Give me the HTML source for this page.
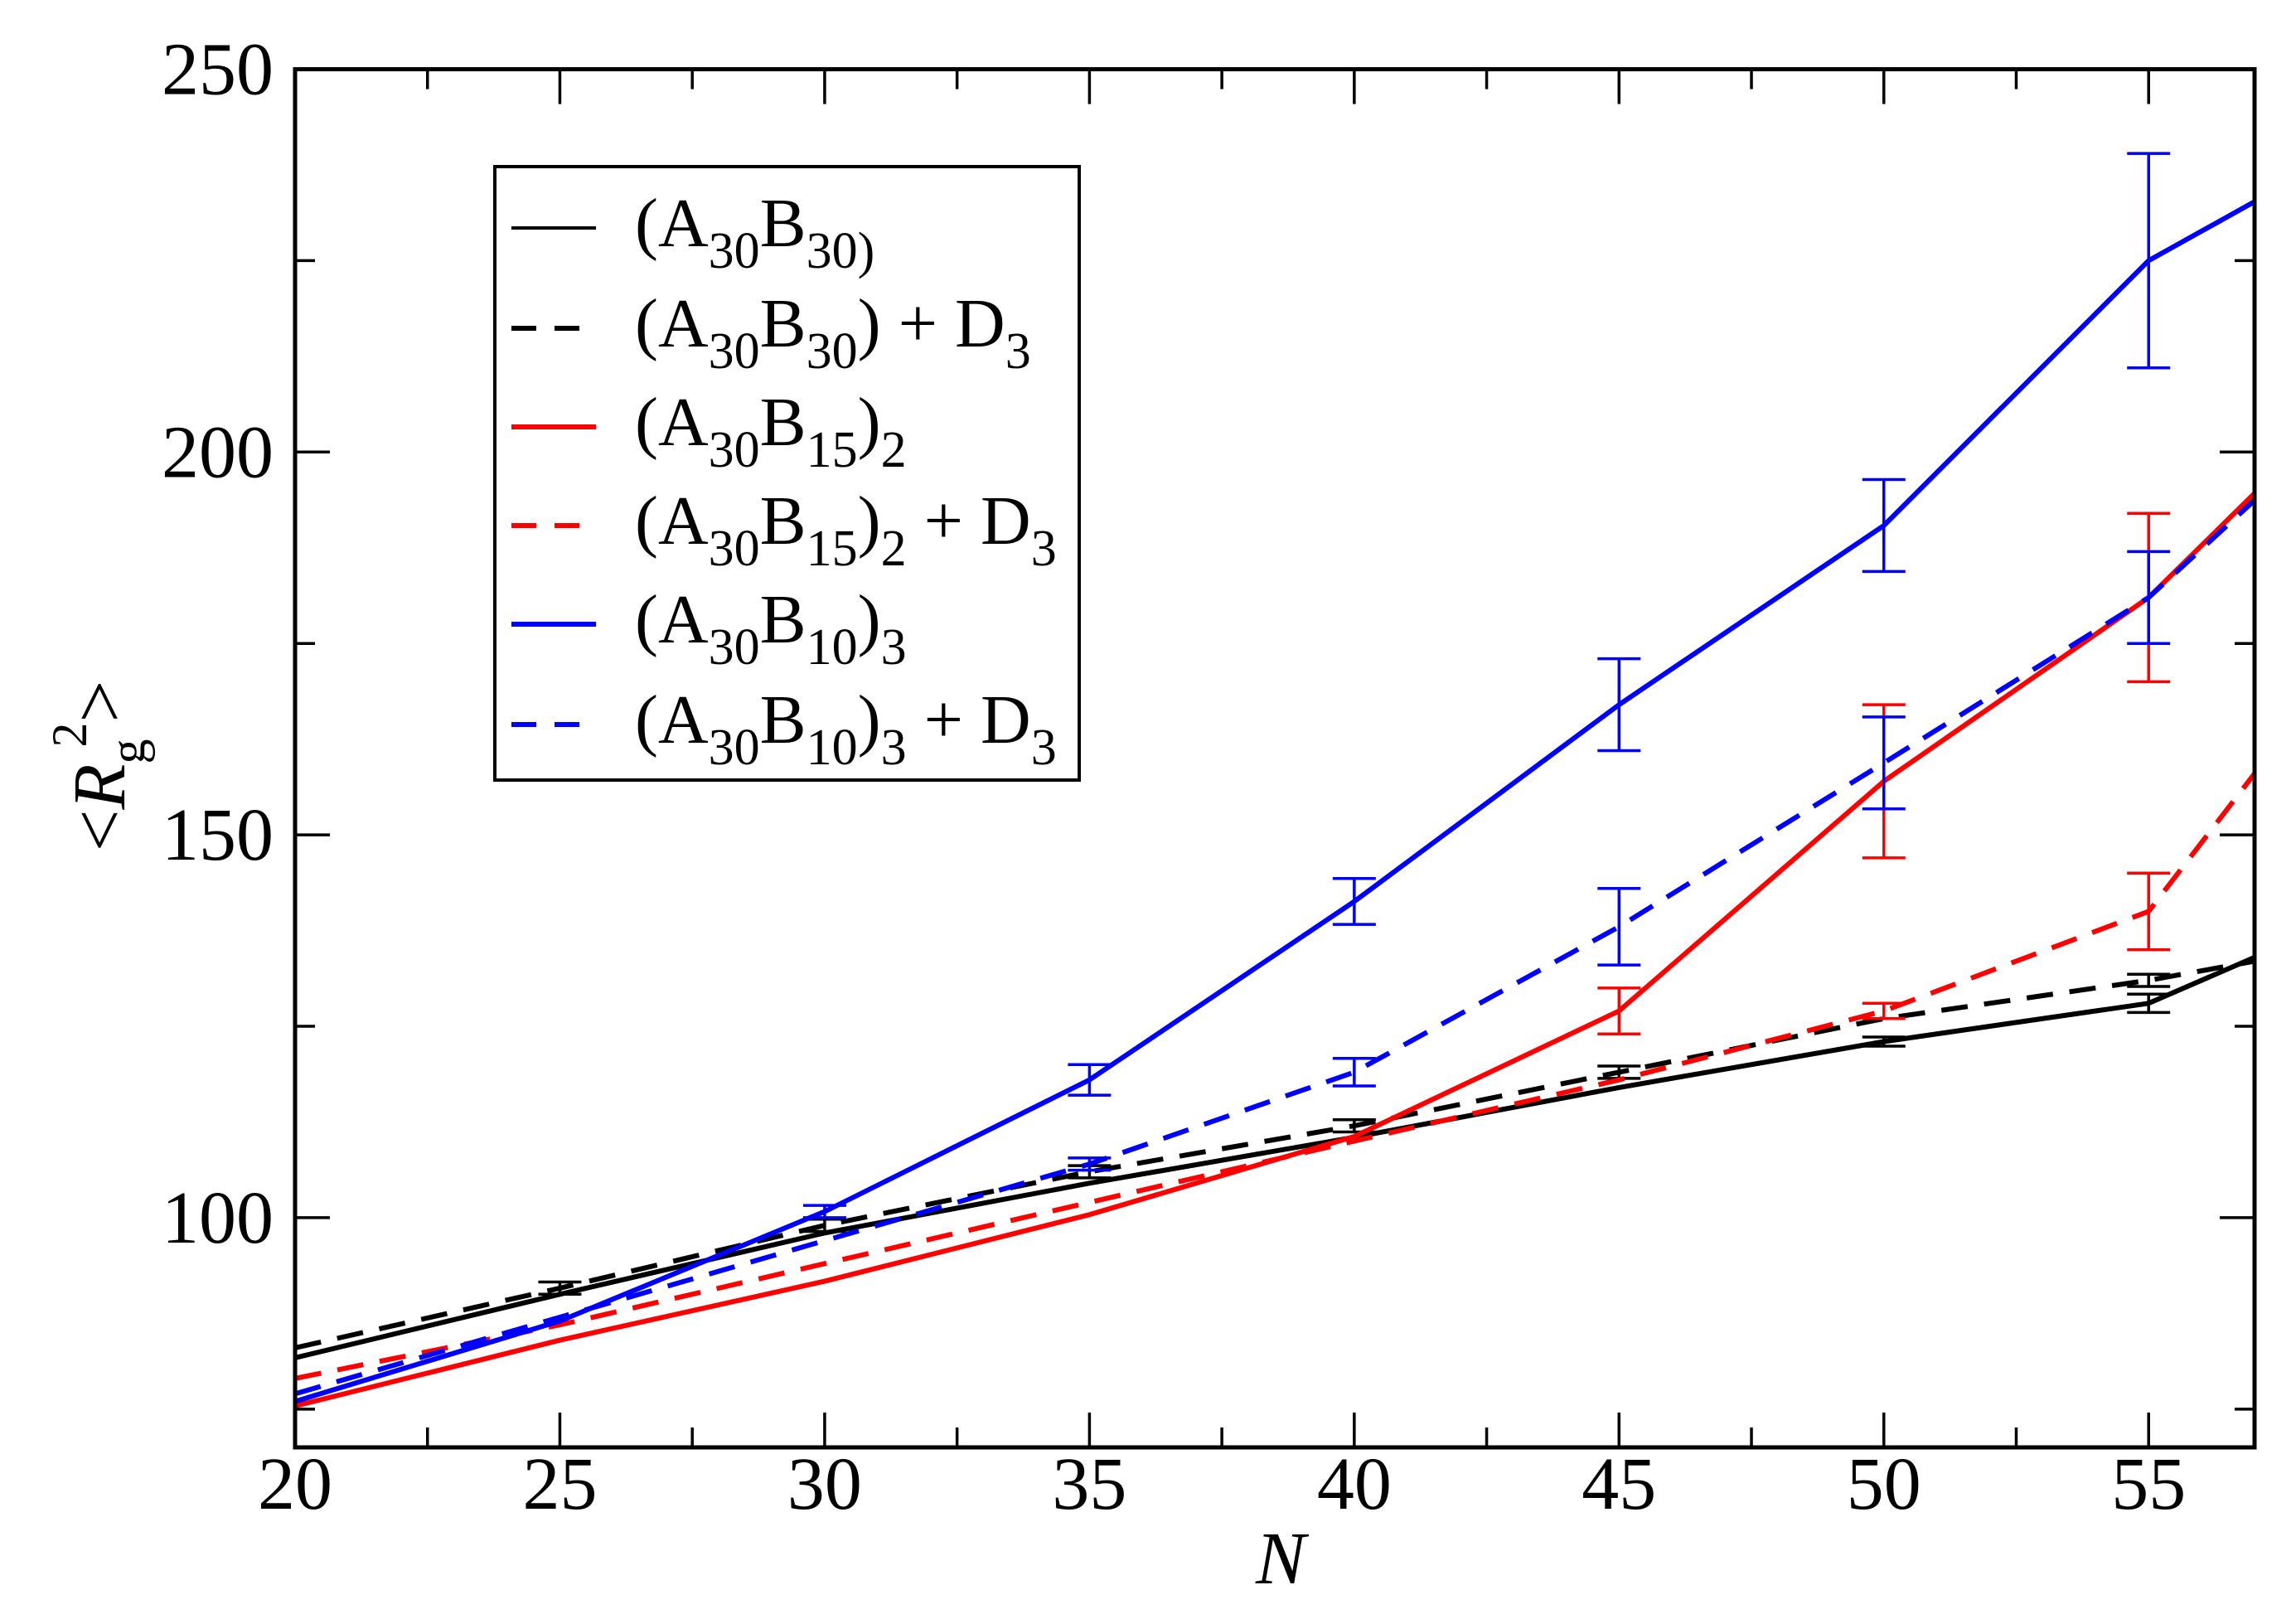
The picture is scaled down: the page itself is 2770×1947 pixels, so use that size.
<!DOCTYPE html>
<html><head><meta charset="utf-8"><style>
html,body{margin:0;padding:0;background:#fff;}
svg{display:block;font-family:"Liberation Serif",serif;}
</style></head><body>
<svg id="chart" width="2770" height="1947" viewBox="0 0 2770 1947" xmlns="http://www.w3.org/2000/svg">
<g id="plot"></g>
<g id="axes"></g>
<g id="legend">
<rect x="597" y="201" width="705" height="740" fill="#fff" stroke="#000" stroke-width="4"/>
</g>
</svg>
<script>
const xValues=[20,25,30,35,40,45,50,55,57];
const blackSolid=[81.7,90,98,104.5,110.5,117,123,128,134];
const blackDashed=[83,90.8,99,106,112,119,126,131,133.5];
const redSolid=[75.4,84,91.7,100.4,110.6,127,157,181,194.6];
const redDashed=[79,86,94,102,110,118,127,140,158];
const blueSolid=[76,86.5,100.8,118,141.3,167,190.4,225,232.7];
const blueDashed=[77,87,97,107,119,138,159.4,181,193.7];
const blackSolidErr=[0,0,0,0,0,0,0.6,1.2,0];
const blackDashedErr=[0,0.8,0.8,0.8,0.8,0.8,0,0.8,0];
const redSolidErr=[0,0,0,0,0,3,10,11,0];
const redDashedErr=[0,0,0,0,0,0,1,5,0];
const blueSolidErr=[0,0,0.8,2,3,6,6,14,0];
const blueDashedErr=[0,0,0,0.8,1.8,5,6,6,0];
const xTicks=[20,25,30,35,40,45,50,55];
const yTicks=[100,150,200,250];

const X0=356,X1=2720,Y0=83.5,Y1=1746;
const xmin=20,xmax=57,ymin=70,ymax=250;
function sx(v){return X0+(v-xmin)/(xmax-xmin)*(X1-X0);}
function sy(v){return Y1-(v-ymin)/(ymax-ymin)*(Y1-Y0);}
const NS="http://www.w3.org/2000/svg";
function mk(tag,attrs,parent){const e=document.createElementNS(NS,tag);for(const k in attrs)e.setAttribute(k,attrs[k]);parent.appendChild(e);return e;}
const plot=document.getElementById('plot'),axes=document.getElementById('axes'),legend=document.getElementById('legend');

const series=[
 {name:'black-solid',vals:blackSolid,err:blackSolidErr,color:'#000',dash:null},
 {name:'black-dashed',vals:blackDashed,err:blackDashedErr,color:'#000',dash:'32 20'},
 {name:'red-solid',vals:redSolid,err:redSolidErr,color:'#ff0000',dash:null},
 {name:'red-dashed',vals:redDashed,err:redDashedErr,color:'#ff0000',dash:'32 20'},
 {name:'blue-solid',vals:blueSolid,err:blueSolidErr,color:'#0000ff',dash:null},
 {name:'blue-dashed',vals:blueDashed,err:blueDashedErr,color:'#0000ff',dash:'32 20'}
];
series.forEach(s=>{
 const g=mk('g',{},plot);
 
 
 s.vals.forEach((v,i)=>{
  const e=s.err[i]; if(!e) return;
  const x=sx(xValues[i]);
  const eb=mk('path',{d:`M${x},${sy(v-e)}V${sy(v+e)}M${x-26},${sy(v-e)}H${x+26}M${x-26},${sy(v+e)}H${x+26}`,stroke:s.color,'stroke-width':3.5,fill:'none'},g);
  
  
 });
 const pts=s.vals.map((v,i)=>sx(xValues[i])+','+sy(v)).join(' ');
 const a={points:pts,fill:'none',stroke:s.color,'stroke-width':6,'stroke-linejoin':'round'};
 if(s.dash)a['stroke-dasharray']=s.dash;
 const pl=mk('polyline',a,g);
 
 
});

const fr=mk('rect',{x:X0,y:Y0,width:X1-X0,height:Y1-Y0,fill:'none',stroke:'#000','stroke-width':5},axes);


for(let v=20;v<=57;v+=2.5){
 const x=sx(v),major=(v%5===0),L=major?42:24;
 mk('path',{d:`M${x},${Y1}V${Y1-L}M${x},${Y0}V${Y0+L}`,stroke:'#000','stroke-width':3.5},axes);
}
xTicks.forEach(v=>{
 const t=mk('text',{x:sx(v),y:1820,'font-size':90,'text-anchor':'middle'},axes);
 t.textContent=v;
 
 
});
for(let v=75;v<=250;v+=25){
 const y=sy(v),major=(v%50===0),L=major?42:24;
 mk('path',{d:`M${X0},${y}H${X0+L}M${X1},${y}H${X1-L}`,stroke:'#000','stroke-width':3.5},axes);
}
yTicks.forEach(v=>{
 const t=mk('text',{x:330,y:sy(v)+30,'font-size':90,'text-anchor':'end'},axes);
 t.textContent=v;
 
 
});
const xl=mk('text',{x:1545,y:1910,'font-size':90,'font-style':'italic','text-anchor':'middle'},axes);
xl.textContent='N';


const yl=mk('text',{transform:'translate(150,924) rotate(-90)','font-size':90,'text-anchor':'middle'},axes);
yl.innerHTML='&lt;<tspan font-style="italic">R</tspan><tspan font-size="60" dy="24">g</tspan><tspan font-size="60" dx="-10" dy="-70">2</tspan><tspan dy="46">&gt;</tspan>';



const rowY=[275,396,515,634,753,874];
const subB=['30','30','15','15','10','10'];
const subOut=['','','2','2','3','3'];
const plusD=[false,true,false,true,false,true];
series.forEach((s,i)=>{
 const y=rowY[i];
 const a={x1:617,x2:719,y1:y,y2:y,stroke:s.color,'stroke-width':i===0?4:6};
 if(s.dash)a['stroke-dasharray']='30 22';
 const ln=mk('line',a,legend);
 
 
 const t=mk('text',{x:766,y:y+22,'font-size':84},legend);
 let h='(A<tspan font-size="62" dy="26">30</tspan><tspan dy="-26">B</tspan><tspan font-size="62" dy="26">'+subB[i]+(i===0?')':'')+'</tspan>';
 if(i>0){ h+='<tspan dy="-26">)</tspan>'; let d=0; if(subOut[i]){h+='<tspan font-size="62" dy="26">'+subOut[i]+'</tspan>'; d=26;}
   if(plusD[i]) h+='<tspan dy="'+(-d)+'"> + D</tspan><tspan font-size="62" dy="26">3</tspan>'; }
 t.innerHTML=h;
 
 
});
</script>
</body></html>
